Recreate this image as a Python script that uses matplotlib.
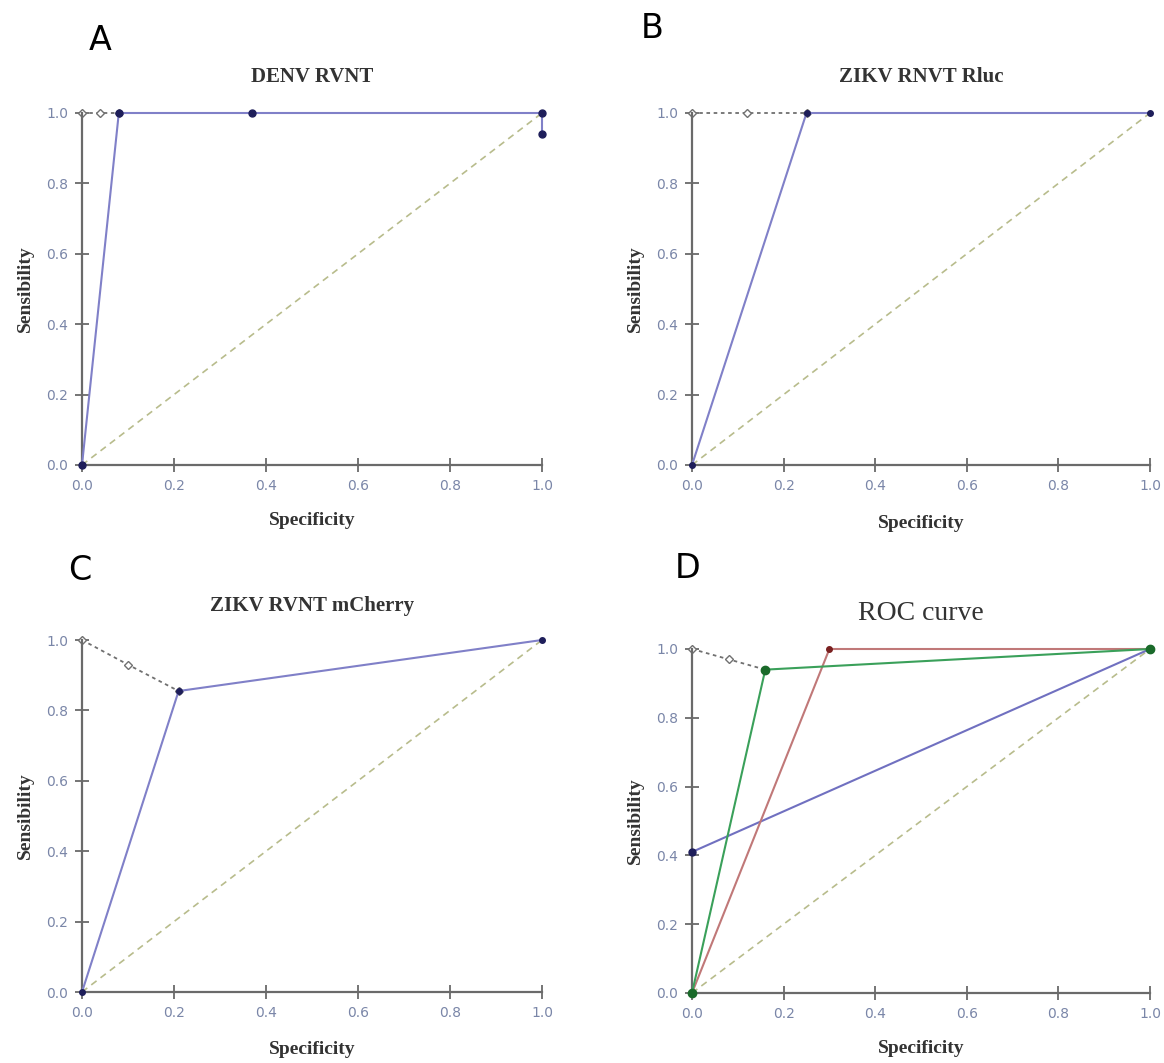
import matplotlib.pyplot as plt

# panel A - DENV RVNT
a_x = [0.0, 0.08, 0.37, 1.0, 1.0]
a_y = [0.0, 1.0, 1.0, 1.0, 0.94]
a_dash_x = [0.0, 0.04, 0.08]
a_dash_y = [1.0, 1.0, 1.0]

# panel B - ZIKV RNVT Rluc
b_x = [0.0, 0.25, 1.0]
b_y = [0.0, 1.0, 1.0]
b_dash_x = [0.0, 0.12, 0.25]
b_dash_y = [1.0, 1.0, 1.0]

# panel C - ZIKV RVNT mCherry
c_x = [0.0, 0.21, 1.0]
c_y = [0.0, 0.855, 1.0]
c_dash_x = [0.0, 0.10, 0.21]
c_dash_y = [1.0, 0.93, 0.855]

# panel D - ROC curve (three curves)
d_blue_x = [0.0, 1.0]
d_blue_y = [0.41, 1.0]
d_green_x = [0.0, 0.16, 1.0]
d_green_y = [0.0, 0.94, 1.0]
d_red_x = [0.0, 0.30, 1.0]
d_red_y = [0.0, 1.0, 1.0]
d_dash_x = [0.0, 0.08, 0.16]
d_dash_y = [1.0, 0.97, 0.94]

ticks = [0.0, 0.2, 0.4, 0.6, 0.8, 1.0]
tick_labels = ['0.0', '0.2', '0.4', '0.6', '0.8', '1.0']

W, H = 1164, 1063
fig = plt.figure(figsize=(W / 100, H / 100), dpi=100)

serif = 'Liberation Serif'
blue = '#8080c8'
navy = '#1e1e5a'
diag = '#b8bc8c'
axis_col = '#6a6a6a'
tick_col = '#7a86a8'


def box(x0, x1, ytop, ybot):
    return [x0 / W, 1 - ybot / H, (x1 - x0) / W, (ybot - ytop) / H]


def setup(ax, title, title_y, xlab_pad, title_size=15, title_weight='bold'):
    ax.set_xlim(0, 1)
    ax.set_ylim(0, 1)
    for s in ['top', 'right']:
        ax.spines[s].set_visible(False)
    for s in ['left', 'bottom']:
        ax.spines[s].set_color(axis_col)
        ax.spines[s].set_linewidth(1.6)
    ax.set_xticks(ticks)
    ax.set_yticks(ticks)
    ax.set_xticklabels(tick_labels)
    ax.set_yticklabels(tick_labels)
    ax.tick_params(direction='inout', length=10, width=1.3, color=axis_col,
                   labelcolor=tick_col, labelsize=10, pad=5)
    ax.plot([0, 1], [0, 1], ls=(0, (4, 3)), color=diag, lw=1.2, zorder=1)
    ax.set_title(title, fontfamily=serif, fontsize=title_size, fontweight=title_weight,
                 color='#333333', y=title_y)
    ax.set_xlabel('Specificity', fontfamily=serif, fontsize=14, fontweight='bold',
                  color='#333333', labelpad=xlab_pad)
    ax.set_ylabel('Sensibility', fontfamily=serif, fontsize=14, fontweight='bold',
                  color='#333333', labelpad=9)


def dashpath(ax, x, y):
    ax.plot(x, y, ls=(0, (2, 2)), color='#707070', lw=1.3, marker='D', ms=4,
            mfc='white', mec='#707070', mew=1, zorder=2, clip_on=False)


def curve(ax, x, y, lc, mc, ms=5):
    ax.plot(x, y, color=lc, lw=1.5, zorder=3, clip_on=False)
    ax.plot(x, y, ls='none', marker='o', ms=ms, color=mc, zorder=4, clip_on=False)


axA = fig.add_axes(box(82, 542, 113, 465))
setup(axA, 'DENV RVNT', 1.065, 14)
dashpath(axA, a_dash_x, a_dash_y)
curve(axA, a_x, a_y, blue, navy)

axB = fig.add_axes(box(692, 1150, 113, 465))
setup(axB, 'ZIKV RNVT Rluc', 1.065, 16)
dashpath(axB, b_dash_x, b_dash_y)
curve(axB, b_x, b_y, blue, navy, ms=4)

axC = fig.add_axes(box(82, 542, 640, 992))
setup(axC, 'ZIKV RVNT mCherry', 1.06, 15)
dashpath(axC, c_dash_x, c_dash_y)
curve(axC, c_x, c_y, blue, navy, ms=4)

axD = fig.add_axes(box(692, 1150, 649, 993))
setup(axD, 'ROC curve', 1.06, 14, title_size=20, title_weight='normal')
dashpath(axD, d_dash_x, d_dash_y)
curve(axD, d_blue_x, d_blue_y, '#7070c0', navy)
curve(axD, d_red_x, d_red_y, '#c07878', '#7a2020', ms=4)
curve(axD, d_green_x, d_green_y, '#3aa05a', '#1a6a2a', ms=6)

for letter, x, y in [('A', 100, 40), ('B', 652, 28), ('C', 80, 570), ('D', 688, 568)]:
    fig.text(x / W, 1 - y / H, letter, fontsize=24, family='DejaVu Sans',
             ha='center', va='center', color='black')

fig.savefig('out.png', dpi=100, facecolor='white')
